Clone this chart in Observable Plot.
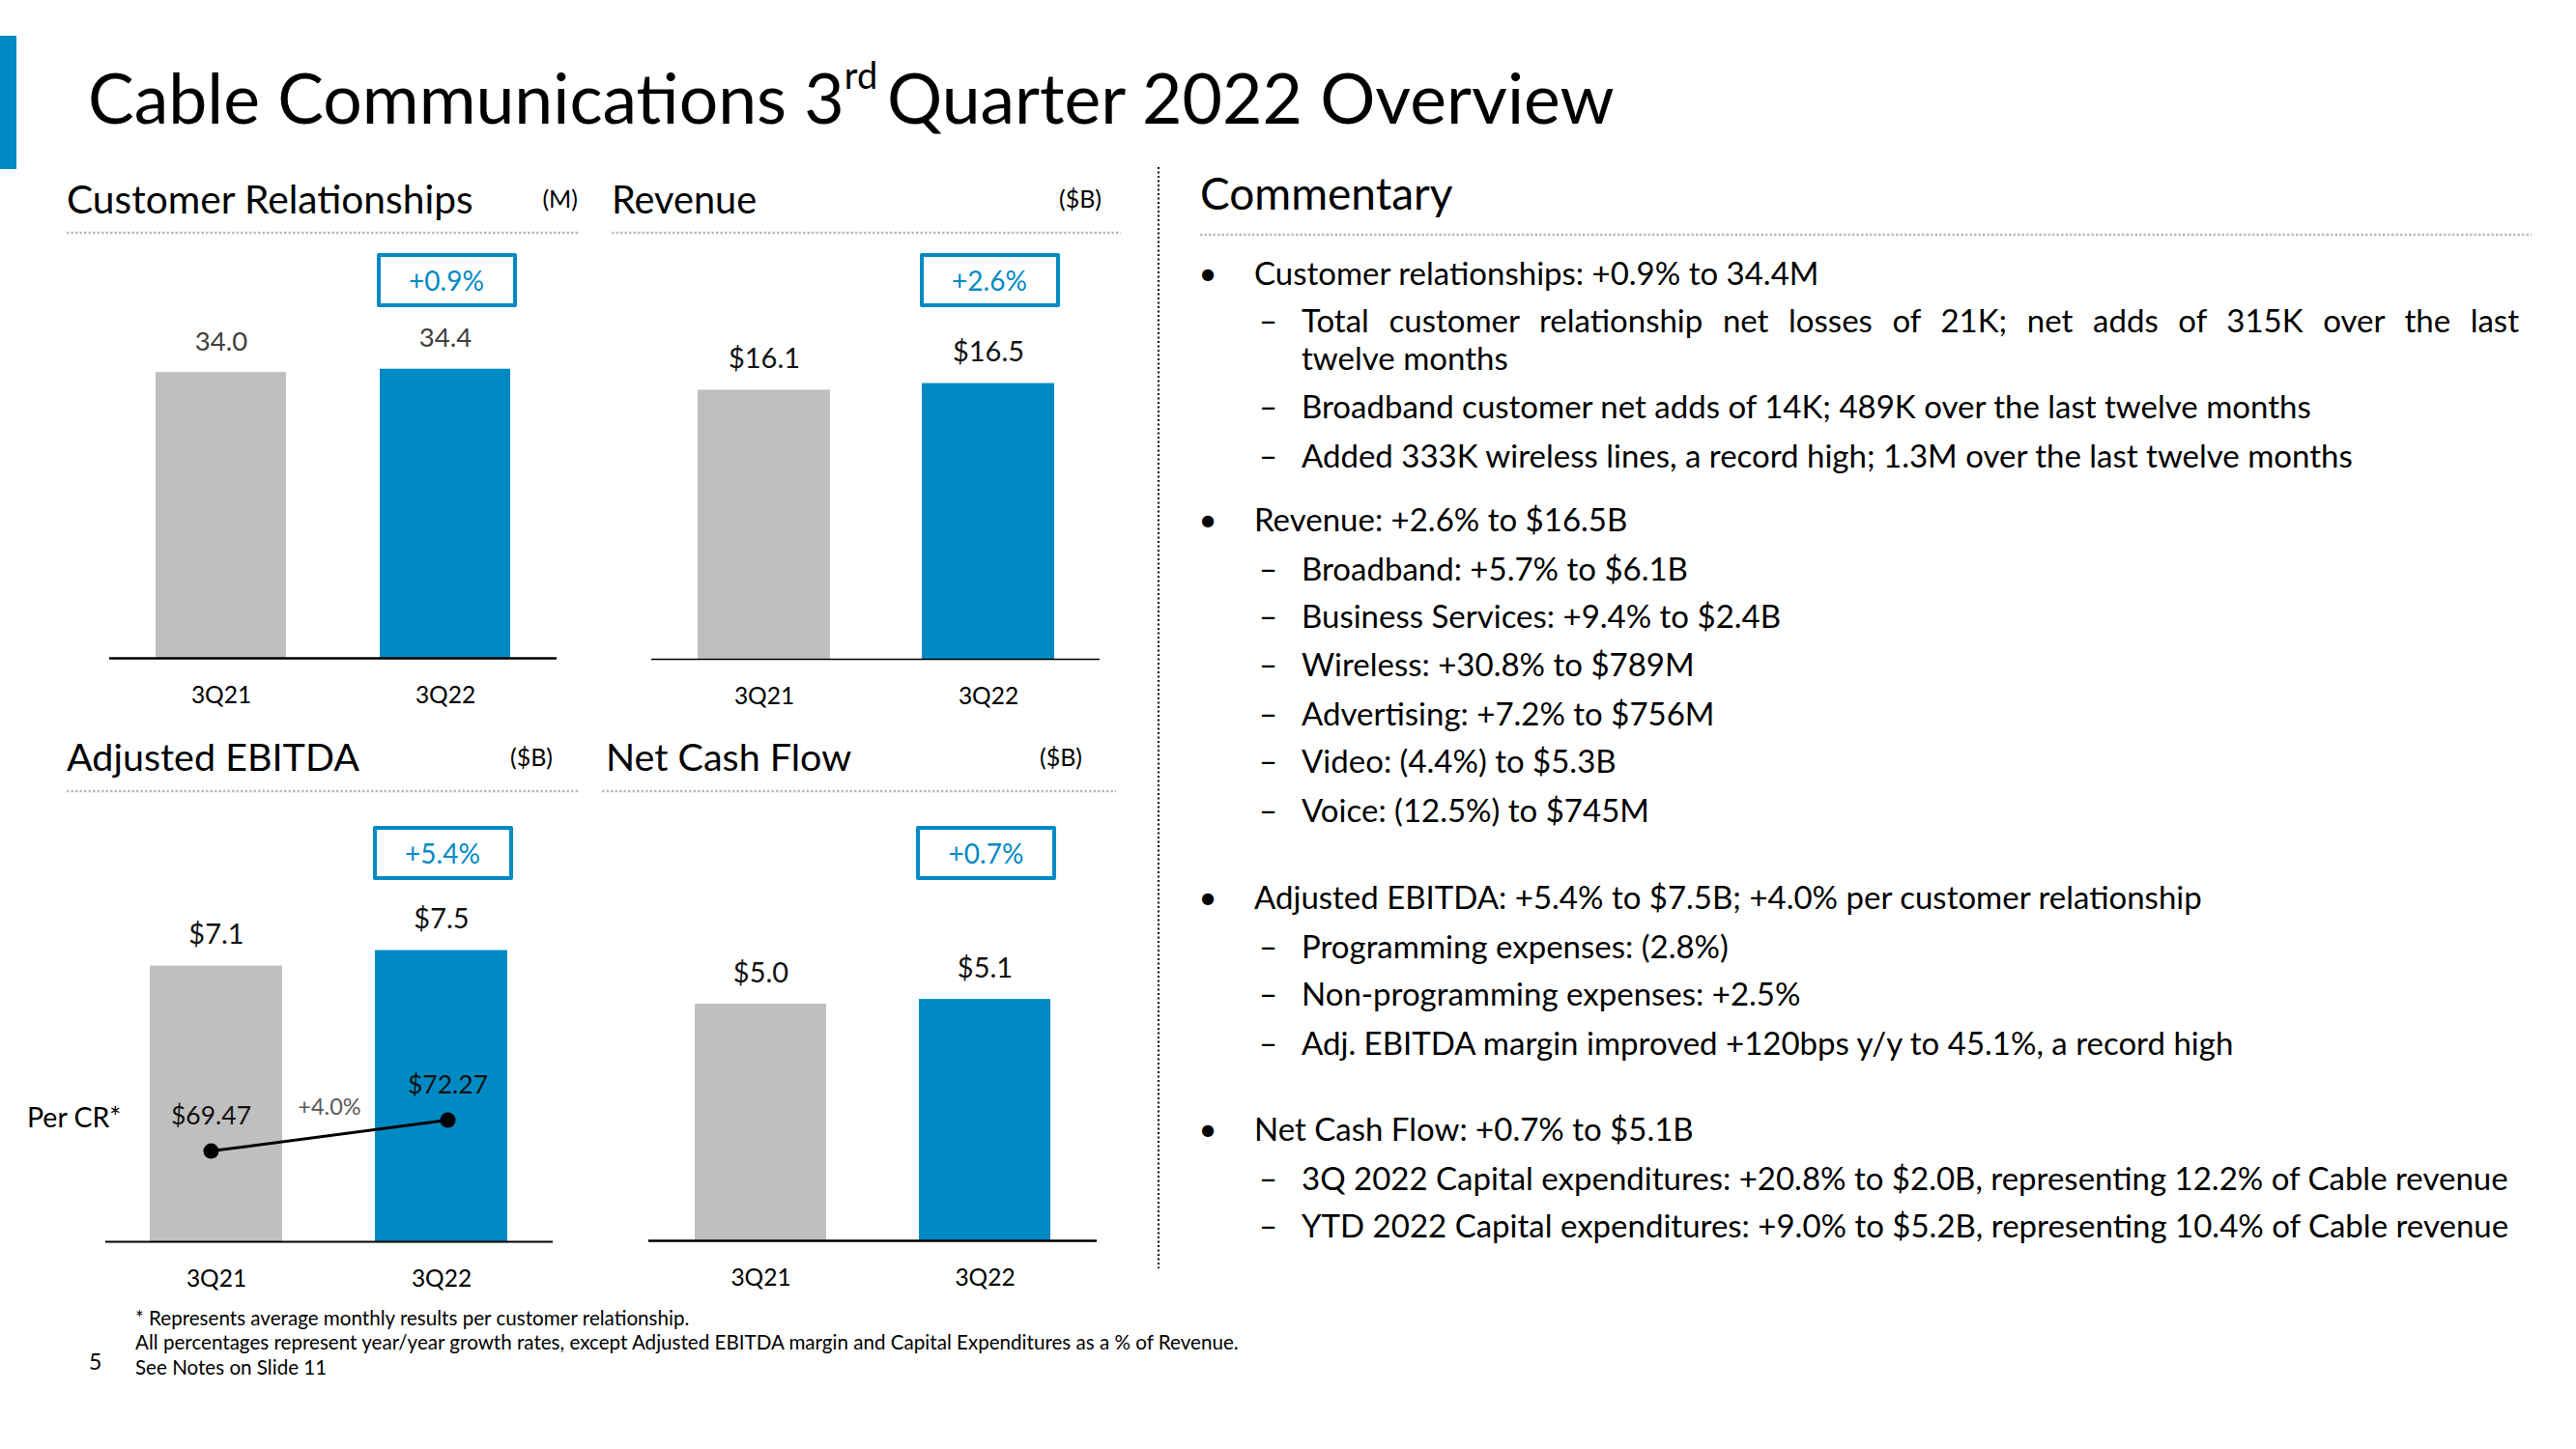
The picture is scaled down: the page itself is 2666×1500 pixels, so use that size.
<!DOCTYPE html>
<html><head><meta charset="utf-8">
<script src="https://cdn.jsdelivr.net/npm/d3@7"></script>
<script src="https://cdn.jsdelivr.net/npm/@observablehq/plot@0.6"></script>
<style>
html,body{margin:0;padding:0;background:#fff;}
#slide{position:relative;width:2666px;height:1500px;overflow:hidden;font-family:Lato,"Open Sans",sans-serif;background:#fff;}
#slide svg.plot{position:absolute;max-width:none;}
.box{position:absolute;box-sizing:border-box;border:4px solid #008AC3;border-radius:2px;color:#008AC3;display:flex;align-items:center;justify-content:center;font-size:28px;background:#fff;font-family:Lato,sans-serif;}
</style></head><body><div id="slide"></div>
<script>
// ---------- data ----------
const categories = ["3Q21", "3Q22"];
const customerRelationships = [34.0, 34.4];
const customerLabels = ["34.0", "34.4"];
const revenue = [16.1, 16.5];
const revenueLabels = ["$16.1", "$16.5"];
const adjustedEbitda = [7.1, 7.5];
const ebitdaLabels = ["$7.1", "$7.5"];
const netCashFlow = [5.0, 5.1];
const netCashFlowLabels = ["$5.0", "$5.1"];
const ebitdaPerCR = [69.47, 72.27];
const ebitdaPerCRLabels = ["$69.47", "$72.27"];
const perCRGrowth = "+4.0%";
const growthRates = ["+0.9%", "+2.6%", "+5.4%", "+0.7%"];
const panelTitles = ["Customer Relationships", "Revenue", "Adjusted EBITDA", "Net Cash Flow"];
const panelUnits = ["(M)", "($B)", "($B)", "($B)"];
const commentaryItems = [
  [1, "Customer relationships: +0.9% to 34.4M"],
  [2, "Total customer relationship net losses of 21K; net adds of 315K over the last", "justify"],
  [3, "twelve months"],
  [2, "Broadband customer net adds of 14K; 489K over the last twelve months"],
  [2, "Added 333K wireless lines, a record high; 1.3M over the last twelve months"],
  [1, "Revenue: +2.6% to $16.5B"],
  [2, "Broadband: +5.7% to $6.1B"],
  [2, "Business Services: +9.4% to $2.4B"],
  [2, "Wireless: +30.8% to $789M"],
  [2, "Advertising: +7.2% to $756M"],
  [2, "Video: (4.4%) to $5.3B"],
  [2, "Voice: (12.5%) to $745M"],
  [1, "Adjusted EBITDA: +5.4% to $7.5B; +4.0% per customer relationship"],
  [2, "Programming expenses: (2.8%)"],
  [2, "Non-programming expenses: +2.5%"],
  [2, "Adj. EBITDA margin improved +120bps y/y to 45.1%, a record high"],
  [1, "Net Cash Flow: +0.7% to $5.1B"],
  [2, "3Q 2022 Capital expenditures: +20.8% to $2.0B, representing 12.2% of Cable revenue"],
  [2, "YTD 2022 Capital expenditures: +9.0% to $5.2B, representing 10.4% of Cable revenue"]
];
const footnotes = [
  "* Represents average monthly results per customer relationship.",
  "All percentages represent year/year growth rates, except Adjusted EBITDA margin and Capital Expenditures as a % of Revenue.",
  "See Notes on Slide 11"
];
const pageNumber = "5";

// ---------- style / layout ----------
const FONT = "Lato, 'Open Sans', sans-serif";
const BLUE = "#008AC3", GRAY = "#BFBFBF";
const slide = document.getElementById("slide");

const panels = [
  {values: customerRelationships, labels: customerLabels, left: 100, top: 250, ml: 13, mr: 14, mb: 69, pxu: 8.7, pi: 0.418, po: 0.203, axisW: 2.5, labelColor: "#404040", labelSize: 27.5, boxTop: 262},
  {values: revenue, labels: revenueLabels, left: 660, top: 250, ml: 14, mr: 12, mb: 68, pxu: 17.3, pi: 0.41, po: 0.203, axisW: 1.5, labelColor: "#111", labelSize: 29, boxTop: 262},
  {values: adjustedEbitda, labels: ebitdaLabels, left: 95, top: 840, ml: 14, mr: 13, mb: 55, pxu: 40.2, pi: 0.41, po: 0.198, axisW: 2, labelColor: "#111", labelSize: 29, boxTop: 855},
  {values: netCashFlow, labels: netCashFlowLabels, left: 660, top: 840, ml: 11, mr: 15, mb: 56, pxu: 49, pi: 0.414, po: 0.207, axisW: 2.5, labelColor: "#111", labelSize: 29, boxTop: 855}
];
const W = 490, H = 500;

function place(svg, left, top) {
  svg.style.left = left + "px";
  svg.style.top = top + "px";
  slide.appendChild(svg);
}

panels.forEach((p, i) => {
  const data = categories.map((c, j) => ({cat: c, value: p.values[j], label: p.labels[j]}));
  const plotH = H - p.mb;
  const chart = Plot.plot({
    width: W, height: H,
    marginLeft: p.ml, marginRight: p.mr, marginTop: 0, marginBottom: p.mb,
    style: {fontFamily: FONT, fontSize: "24.5px", background: "transparent", color: "#000", overflow: "visible"},
    x: {domain: categories, paddingInner: p.pi, paddingOuter: p.po, label: null, tickSize: 0, tickPadding: 29},
    y: {domain: [0, plotH / p.pxu], axis: null},
    color: {domain: categories, range: [GRAY, BLUE]},
    marks: [
      Plot.barY(data, {x: "cat", y: "value", fill: "cat"}),
      Plot.ruleY([0], {stroke: "#000", strokeWidth: p.axisW}),
      Plot.text(data, {x: "cat", y: "value", text: "label", dy: -32, fontSize: p.labelSize, fill: p.labelColor})
    ]
  });
  chart.classList.add("plot");
  place(chart, p.left, p.top);

  const xs = chart.scale("x");
  const cx = p.left + xs.apply(categories[1]) + xs.bandwidth / 2;
  const box = document.createElement("div");
  box.className = "box";
  box.style.left = (cx - 71) + "px";
  box.style.top = p.boxTop + "px";
  box.style.width = "145px";
  box.style.height = "56px";
  box.textContent = growthRates[i];
  slide.appendChild(box);

  if (i === 2) {
    // per customer relationship overlay on its own (secondary) scale
    const k = 11.43, lo = 61.25;
    const perData = categories.map((c, j) => ({cat: c, value: ebitdaPerCR[j], label: ebitdaPerCRLabels[j]}));
    const xr = [123, 368];
    const over = Plot.plot({
      width: W, height: H,
      marginLeft: p.ml, marginRight: p.mr, marginTop: 0, marginBottom: p.mb,
      style: {fontFamily: FONT, background: "transparent", color: "#000", overflow: "visible"},
      x: {type: "point", domain: categories, range: xr, padding: 0, axis: null},
      y: {domain: [lo, lo + plotH / k], axis: null},
      marks: [
        Plot.line(perData, {x: "cat", y: "value", stroke: "#000", strokeWidth: 3}),
        Plot.dot(perData, {x: "cat", y: "value", r: 8, fill: "#000"}),
        Plot.text(perData, {x: "cat", y: "value", text: "label", dy: -36, fontSize: 26.5, fill: "#111"}),
        Plot.text([perCRGrowth], {x: () => categories[0], y: () => d3.mean(ebitdaPerCR), text: d => d, dx: (xr[1] - xr[0]) / 2, dy: -29, fontSize: 23.5, fill: "#595959"})
      ]
    });
    over.classList.add("plot");
    place(over, p.left, p.top);
  }
});

// ---------- static slide text overlay ----------
const svg = d3.select(slide).append("svg")
  .attr("width", 2666).attr("height", 1500)
  .style("position", "absolute").style("left", 0).style("top", 0)
  .style("pointer-events", "none")
  .style("font-family", FONT);

svg.append("rect").attr("x", 0).attr("y", 37).attr("width", 17).attr("height", 138).attr("fill", BLUE);

const title = svg.append("text").attr("x", 91).attr("y", 128).attr("font-size", 71.5).attr("fill", "#000");
title.append("tspan").text("Cable Communications 3");
title.append("tspan").attr("font-size", 38).attr("dy", -36).text("rd ");
title.append("tspan").attr("dy", 36).text("Quarter 2022 Overview");

const headers = [
  {x: 69, y: 221, ux: 598, uy: 215, r1: 69, r2: 600, ry: 241, fs: 40.7},
  {x: 633, y: 221, ux: 1140, uy: 215, r1: 633, r2: 1160, ry: 241, fs: 39.7},
  {x: 69, y: 798, ux: 572, uy: 793, r1: 69, r2: 600, ry: 819, fs: 39.5},
  {x: 627, y: 798, ux: 1120, uy: 793, r1: 623, r2: 1155, ry: 819, fs: 39.5}
];
headers.forEach((h, i) => {
  svg.append("text").attr("x", h.x).attr("y", h.y).attr("font-size", h.fs).text(panelTitles[i]);
  svg.append("text").attr("x", h.ux).attr("y", h.uy).attr("font-size", 25).attr("text-anchor", "end").text(panelUnits[i]);
  svg.append("line").attr("x1", h.r1).attr("x2", h.r2).attr("y1", h.ry).attr("y2", h.ry)
    .attr("stroke", "#BBBBBB").attr("stroke-width", 2.5).attr("stroke-dasharray", "2.5 2");
});

svg.append("text").attr("x", 28).attr("y", 1167).attr("font-size", 28.5).text("Per CR*");

// divider
svg.append("line").attr("x1", 1199).attr("x2", 1199).attr("y1", 173).attr("y2", 1313)
  .attr("stroke", "#000").attr("stroke-width", 2).attr("stroke-dasharray", "2 2.5");

// commentary
svg.append("text").attr("x", 1242).attr("y", 217).attr("font-size", 46).text("Commentary");
svg.append("line").attr("x1", 1242).attr("x2", 2620).attr("y1", 243).attr("y2", 243)
  .attr("stroke", "#BBBBBB").attr("stroke-width", 2.5).attr("stroke-dasharray", "2.5 2");

const commentaryY = [295, 344, 383, 433, 484, 550, 601, 650, 700, 751, 800, 851, 941, 992, 1041, 1092, 1181, 1232, 1281];
const CS = 33;
commentaryItems.forEach((it, i) => {
  const [level, txt, mode] = it;
  const y = commentaryY[i];
  if (level === 1) {
    svg.append("text").attr("x", 1250).attr("y", y).attr("font-size", CS).attr("text-anchor", "middle").text("•");
    svg.append("text").attr("x", 1298).attr("y", y).attr("font-size", CS).text(txt);
  } else {
    if (level === 2) svg.append("text").attr("x", 1303).attr("y", y).attr("font-size", CS).text("–");
    const t = svg.append("text").attr("x", 1347).attr("y", y).attr("font-size", CS).text(txt);
    if (mode === "justify") {
      const natural = t.node().getComputedTextLength();
      const spaces = (txt.match(/ /g) || []).length;
      t.attr("word-spacing", ((2607 - 1347) - natural) / spaces);
    }
  }
});

// footnotes
const footY = [1372, 1397, 1423];
footnotes.forEach((f, i) => {
  svg.append("text").attr("x", 140).attr("y", footY[i]).attr("font-size", 20.6).text(f);
});
svg.append("text").attr("x", 92).attr("y", 1418).attr("font-size", 23).text(pageNumber);
</script>
</body></html>
